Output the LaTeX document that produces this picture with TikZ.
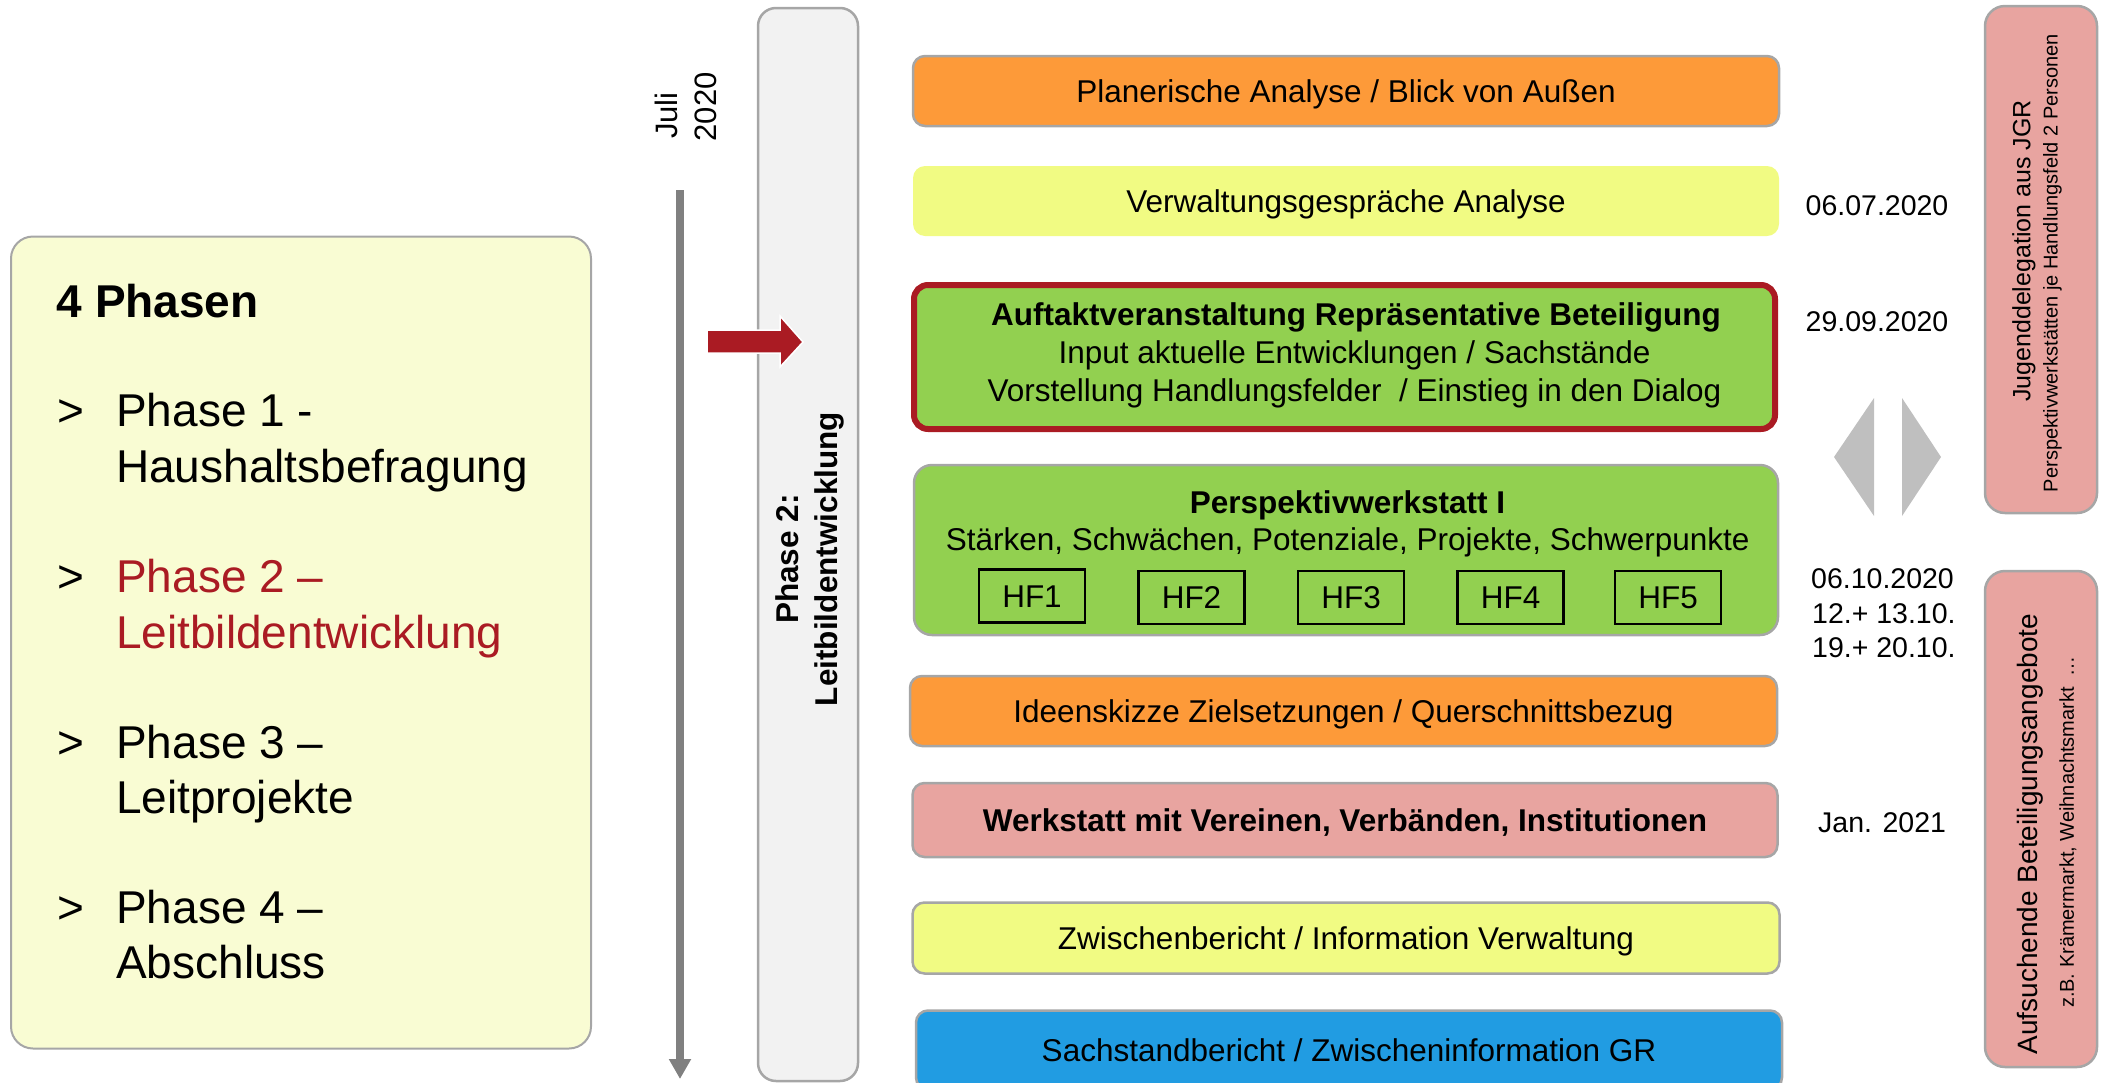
\documentclass[tikz,border=0pt]{standalone}
\usepackage{fontspec}
\setmainfont{Liberation Sans}
\usetikzlibrary{arrows.meta}
\definecolor{leftF}{RGB}{249,252,211}
\definecolor{bord}{RGB}{166,166,166}
\definecolor{orangeF}{RGB}{253,154,57}
\definecolor{yellowF}{RGB}{241,251,131}
\definecolor{greenF}{RGB}{146,208,80}
\definecolor{pinkF}{RGB}{232,164,160}
\definecolor{blueF}{RGB}{33,156,226}
\definecolor{grayF}{RGB}{242,242,242}
\definecolor{darkredC}{RGB}{170,27,35}
\definecolor{tlgray}{RGB}{128,128,128}
\definecolor{triC}{RGB}{191,191,191}
\begin{document}
\begin{tikzpicture}[x=1pt,y=-1pt,
  mbox/.style={draw=bord, line width=2.5pt, rounded corners=12pt, minimum width=866pt, minimum height=70pt, inner sep=0pt, text height=22.5pt, text depth=0pt, font=\fontsize{31.5}{38.5}\selectfont},
  mtxt/.style={inner sep=0pt, anchor=base, font=\fontsize{31.5}{38.5}\selectfont},
  ltxt/.style={inner sep=0pt, anchor=base west, font=\fontsize{46}{56}\selectfont},
  dtxt/.style={inner sep=0pt, anchor=base west, font=\fontsize{28.5}{34}\selectfont},
  hfbox/.style={draw=black, line width=2.5pt, minimum width=106pt, minimum height=53pt, inner sep=0pt, text height=22.5pt, text depth=0pt, font=\fontsize{31.5}{38.5}\selectfont},
  rbox/.style={draw=bord, line width=2.5pt, fill=pinkF, rounded corners=20pt, minimum width=112pt, inner sep=0pt},
  vtxt/.style={rotate=90, inner sep=0pt},
  tl/.style={draw=tlgray, line width=7.5pt, -{Triangle[length=20pt,width=21pt]}}
]
\useasboundingbox (0,0) rectangle (2107,1082);
\clip (0,0) rectangle (2107,1082);

% left box
\node[draw=bord, line width=2pt, fill=leftF, rounded corners=22pt, minimum width=580pt, minimum height=812pt, inner sep=0pt] (lbox) at (301,642.5) {};
\node[ltxt, font=\bfseries\fontsize{46}{56}\selectfont] (head) at (56.5,317.5) {4 Phasen};
\node[ltxt] (g1) at (57,426) {>};
\node[ltxt] (p1a) at (116,426) {Phase 1 -};
\node[ltxt] (p1b) at (116,482.5) {Haushaltsbefragung};
\node[ltxt] (g2) at (57,592) {>};
\node[ltxt, text=darkredC] (p2a) at (116,592) {Phase 2 –};
\node[ltxt, text=darkredC] (p2b) at (116,648.5) {Leitbildentwicklung};
\node[ltxt] (g3) at (57,758) {>};
\node[ltxt] (p3a) at (116,758) {Phase 3 –};
\node[ltxt] (p3b) at (116,813.5) {Leitprojekte};
\node[ltxt] (g4) at (57,923) {>};
\node[ltxt] (p4a) at (116,923) {Phase 4 –};
\node[ltxt] (p4b) at (116,978) {Abschluss};

% timeline
\node[vtxt, anchor=base west, font=\fontsize{31}{38}\selectfont] (juli) at (677,139) {Juli};
\node[vtxt, anchor=base west, font=\fontsize{31}{38}\selectfont] (jahr) at (716.5,141.5) {2020};
\coordinate (tltop) at (680,190);
\coordinate (tlbot) at (680,1079);
\draw[tl] (tltop) -- (tlbot);

% phase 2 column
\node[draw=bord, line width=2.5pt, fill=grayF, rounded corners=18pt, minimum width=100pt, minimum height=1073pt, inner sep=0pt] (pbox) at (808,544.5) {};
\node[vtxt, align=center, font=\bfseries\fontsize{31.5}{39}\selectfont] (ptxt) at (809.5,559) {Phase 2:\\Leitbildentwicklung};
\filldraw[fill=darkredC, draw=white, line width=1.5pt] (707,330) -- (780,330) -- (780,316) -- (803,342) -- (780,367) -- (780,353) -- (707,353) -- cycle;

% middle boxes
\node[mbox, fill=orangeF] (b1) at (1346,91) {Planerische Analyse / Blick von Außen};
\node[mbox, fill=yellowF, draw=none] (b2) at (1346,201) {Verwaltungsgespräche Analyse};
\node[draw=darkredC, line width=6pt, fill=greenF, rounded corners=14pt, minimum width=861pt, minimum height=144pt, inner sep=0pt] (b3) at (1344.5,357) {};
\node[mtxt, font=\bfseries\fontsize{31.5}{38.5}\selectfont] (b3a) at (1356,325) {Auftaktveranstaltung Repräsentative Beteiligung};
\node[mtxt] (b3b) at (1354.5,363.3) {Input aktuelle Entwicklungen / Sachstände};
\node[mtxt] (b3c) at (1354.5,401.7) {Vorstellung Handlungsfelder~ / Einstieg in den Dialog};
\node[mbox, fill=greenF, rounded corners=18pt, minimum width=864pt, minimum height=170pt] (b4) at (1346,550) {};
\node[mtxt, font=\bfseries\fontsize{31.5}{38.5}\selectfont] (b4a) at (1347.5,513) {Perspektivwerkstatt I};
\node[mtxt] (b4b) at (1347.6,550) {Stärken, Schwächen, Potenziale, Projekte, Schwerpunkte};
\node[hfbox] (hf1) at (1032,596) {HF1};
\node[hfbox] (hf2) at (1191.5,597.5) {HF2};
\node[hfbox] (hf3) at (1351,597.5) {HF3};
\node[hfbox] (hf4) at (1510.5,597.5) {HF4};
\node[hfbox] (hf5) at (1668,597.5) {HF5};
\node[mbox, fill=orangeF, minimum width=867pt] (b5) at (1343.5,711) {Ideenskizze Zielsetzungen / Querschnittsbezug};
\node[mbox, fill=pinkF, minimum width=865pt, minimum height=74pt, font=\bfseries\fontsize{31.5}{38.5}\selectfont] (b6) at (1345,820) {Werkstatt mit Vereinen, Verbänden, Institutionen};
\node[mbox, fill=yellowF, minimum width=867pt, minimum height=71pt] (b7) at (1346,938) {Zwischenbericht / Information Verwaltung};
\node[mbox, fill=blueF, minimum height=79pt] (b8) at (1349,1050) {Sachstandbericht / Zwischeninformation GR};

% dates
\node[dtxt] (d1) at (1805.5,215) {06.07.2020};
\node[dtxt] (d2) at (1805.5,331.7) {29.09.2020};
\node[dtxt] (d3) at (1811,588) {06.10.2020};
\node[dtxt] (d4) at (1812,623) {12.+ 13.10.};
\node[dtxt] (d5) at (1812,657) {19.+ 20.10.};
\node[dtxt] (d6) at (1818,832) {Jan. 2021};

% grey triangles
\fill[triC] (1874,398) -- (1834,457) -- (1874,516) -- cycle;
\fill[triC] (1902,398) -- (1941,457) -- (1902,516) -- cycle;

% right boxes
\node[rbox, minimum height=507pt] (rb1) at (2041,259.5) {};
\node[vtxt, font=\fontsize{25}{30}\selectfont] (rb1a) at (2024,251) {Jugenddelegation aus JGR};
\node[vtxt, font=\fontsize{20}{24}\selectfont] (rb1b) at (2052.5,263) {Perspektivwerkstätten je Handlungsfeld 2 Personen};
\node[rbox, minimum height=496pt] (rb2) at (2041,819) {};
\node[vtxt, font=\fontsize{28}{34}\selectfont] (rb2a) at (2030,834) {Aufsuchende Beteiligungsangebote};
\node[vtxt, font=\fontsize{20}{24}\selectfont] (rb2b) at (2068,832) {z.B. Krämermarkt, Weihnachtsmarkt~ …};
\end{tikzpicture}
\end{document}
